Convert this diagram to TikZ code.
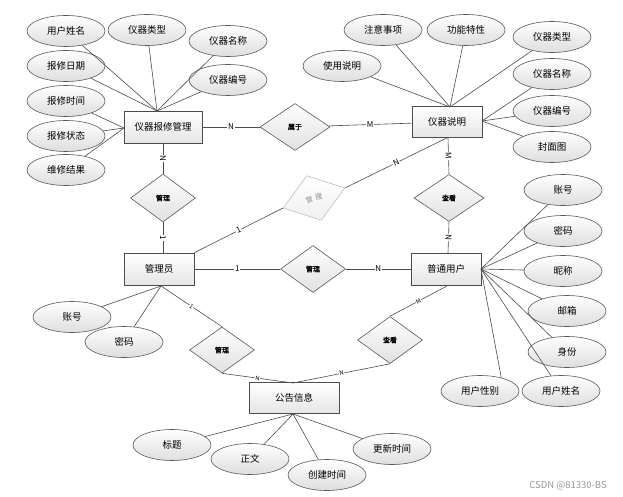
\documentclass[tikz,border=0pt]{standalone}
\usepackage{fontspec}
\setmainfont{Noto Sans CJK SC}
\newfontfamily\dfont{Noto Sans CJK SC}[FakeBold=1.5]
\usetikzlibrary{shapes.geometric}
\begin{document}
\begin{tikzpicture}[x=1pt,y=-1pt,
 attr/.style={ellipse, draw=black!65, line width=0.6pt, top color=white, bottom color=black!13, minimum width=78pt, minimum height=31pt, inner sep=0pt, font=\fontsize{9.5}{11}\selectfont},
 ent/.style={rectangle, draw=black!70, line width=0.7pt, top color=white, bottom color=black!10, minimum width=70pt, minimum height=32pt, inner sep=0pt, font=\fontsize{9.5}{11}\selectfont},
 rel/.style={diamond, draw=black!65, line width=0.6pt, top color=white, bottom color=black!12, minimum width=65pt, minimum height=47pt, inner sep=0pt, font=\dfont\fontsize{7}{8}\selectfont},
 link/.style={draw=black!70, line width=0.6pt},
 card/.style={fill=white, inner sep=0.8pt, font=\fontsize{8}{9}\selectfont},
 smallcard/.style={fill=white, inner sep=0.5pt, font=\fontsize{6}{7}\selectfont},
]
\useasboundingbox (0,0) rectangle (623,497);
\fill[white] (0,0) rectangle (623,497);

% entities
\node[ent, minimum width=78pt] (bx) at (163,127) {仪器报修管理};
\node[ent, minimum height=31pt] (sm) at (447,122) {仪器说明};
\node[ent] (gly) at (159,269) {管理员};
\node[ent] (pt) at (446,269) {普通用户};
\node[ent, minimum width=90pt, minimum height=31pt] (gg) at (294,398) {公告信息};

% relations
\node[rel, minimum width=70pt] (sy) at (295,127) {属于};
\node[rel, minimum height=48pt] (gl1) at (163,198) {管理};
\node[rel] (gl2) at (313,269) {管理};
\node[rel, minimum width=70pt] (ck1) at (449,198) {查看};
\node[rel] (ck2) at (390,340) {查看};
\node[rel, minimum height=46pt] (gl3) at (222,350) {管理};
\node[rel, draw=black!25, top color=white, bottom color=black!6, text=black!45, rotate=18, font=\fontsize{7}{8}\selectfont] (gl4) at (314,198) {管\hspace{2.5pt}理};

% attributes of 仪器报修管理
\node[attr] (yhxm1) at (66,31) {用户姓名};
\node[attr] (yqlx1) at (147,30) {仪器类型};
\node[attr] (yqmc1) at (228,41) {仪器名称};
\node[attr] (bxrq) at (66,66) {报修日期};
\node[attr] (yqbh1) at (228,80) {仪器编号};
\node[attr] (bxsj) at (66,101) {报修时间};
\node[attr] (bxzt) at (66,136) {报修状态};
\node[attr] (wxjg) at (66,170) {维修结果};

% attributes of 仪器说明
\node[attr] (zysx) at (383,30) {注意事项};
\node[attr] (gntx) at (466,30) {功能特性};
\node[attr] (yqlx2) at (552,37) {仪器类型};
\node[attr] (sysm) at (342,66) {使用说明};
\node[attr] (yqmc2) at (552,74) {仪器名称};
\node[attr] (yqbh2) at (552,111) {仪器编号};
\node[attr] (fmt) at (552,147) {封面图};

% attributes of 普通用户
\node[attr] (zh2) at (563,190) {账号};
\node[attr] (mm2) at (563,231) {密码};
\node[attr] (nc) at (563,271) {昵称};
\node[attr] (yx) at (567,311) {邮箱};
\node[attr] (sf) at (567,352) {身份};
\node[attr] (yhxm2) at (561,391) {用户姓名};
\node[attr] (yhxb) at (480,391) {用户性别};

% attributes of 管理员
\node[attr] (zh1) at (72,317) {账号};
\node[attr] (mm1) at (124,342) {密码};

% attributes of 公告信息
\node[attr] (bt) at (172,445) {标题};
\node[attr] (zw) at (250,459) {正文};
\node[attr] (cjsj) at (327,475) {创建时间};
\node[attr] (gxsj) at (392,449) {更新时间};

% junction points
\coordinate (bxT) at (157,111);
\coordinate (bxL) at (124,128);
\coordinate (bxB) at (163,143);
\coordinate (smT) at (450,107);
\coordinate (smR) at (482,121);
\coordinate (smB) at (448,138);
\coordinate (glyT) at (163,253);
\coordinate (glyB) at (161,286);
\coordinate (ptT) at (448,253);
\coordinate (ptB) at (447,286);
\coordinate (ptR) at (481,269);
\coordinate (ggT) at (293,383);
\coordinate (ggB) at (293,414);

% attribute links
\foreach \a in {yhxm1,yqlx1,yqmc1,bxrq,yqbh1} \draw[link] (\a) -- (bxT);
\foreach \a in {bxsj,bxzt,wxjg} \draw[link] (\a) -- (bxL);
\foreach \a in {zysx,gntx,yqlx2,sysm} \draw[link] (\a) -- (smT);
\foreach \a in {yqmc2,yqbh2,fmt} \draw[link] (\a) -- (smR);
\foreach \a in {zh2,mm2,nc,yx,sf,yhxm2} \draw[link] (\a) -- (ptR);
\draw[link] (yhxb.32) -- (ptR);
\foreach \a in {zh1,mm1} \draw[link] (\a) -- (glyB);
\foreach \a in {bt,zw,cjsj,gxsj} \draw[link] (\a) -- (ggB);

% relationship links
\draw[link] (bx) -- node[card]{N} (sy);
\draw[link] (sy) -- node[card]{M} (sm);
\draw[link] (bxB) -- node[card,sloped]{N} (gl1.north);
\draw[link] (gl1.south) -- node[card,sloped]{1} (glyT);
\draw[link] (gly.east) -- node[card]{1} (gl2);
\draw[link] (gl2) -- node[card]{N} (pt);
\draw[link] (smB) -- node[card,sloped]{M} (ck1.north);
\draw[link] (ck1.south) -- node[card,sloped]{N} (ptT);
\draw[link] (gly.north east) -- node[card,sloped]{1} (gl4.west);
\draw[link] (gl4.east) -- node[card,sloped]{N} (sm.south);
\draw[link] (ptB) -- node[smallcard,sloped]{M} (ck2.north);
\draw[link] (ck2.south) -- node[smallcard,sloped]{N} (ggT);
\draw[link] (glyB) -- node[smallcard,sloped]{1} (gl3.north);
\draw[link] (gl3.south) -- node[smallcard,sloped]{N} (ggT);

\node[text=black!40, font=\fontsize{9.5}{11}\selectfont] (wm) at (568,486) {CSDN @81330-BS};
\end{tikzpicture}
\end{document}
